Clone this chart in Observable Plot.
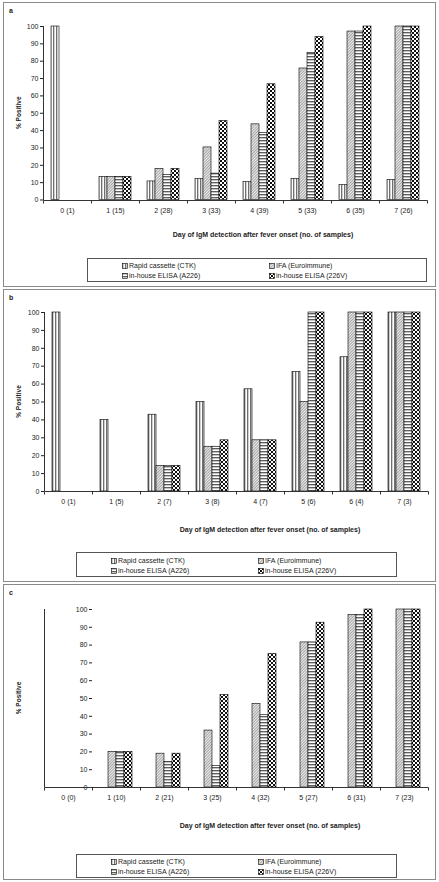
<!DOCTYPE html>
<html><head><meta charset="utf-8">
<script src="https://cdn.jsdelivr.net/npm/d3@7"></script>
<script src="https://cdn.jsdelivr.net/npm/@observablehq/plot@0.6"></script>
<style>
body{margin:0;background:#fff;font-family:"Liberation Sans",Arial,sans-serif;color:#222;}
#page{position:relative;width:439px;height:882px;overflow:hidden;background:#fff;}
.panel{position:absolute;border:1px solid #8a8a8a;box-sizing:border-box;}
.plabel{position:absolute;font-weight:bold;font-size:7px;line-height:7px;}
.xtitle{position:absolute;font-weight:bold;font-size:7px;line-height:8px;transform:translateX(-50%);white-space:nowrap;}
.legend{position:absolute;border:1px solid #555;box-sizing:border-box;background:#fff;}
.item{position:absolute;font-size:7px;line-height:9px;white-space:nowrap;display:flex;align-items:center;}
.item svg{margin-right:1px;display:block;}
.chart{position:absolute;left:0;}
</style></head>
<body>
<div id="page">
<svg width="0" height="0" style="position:absolute">
<defs>
<pattern id="pRapid" width="3" height="3" patternUnits="userSpaceOnUse">
<rect width="3" height="3" fill="#fff"/><rect x="0" width="1" height="3" fill="#707070"/><rect x="1" width="1" height="3" fill="#cfcfcf"/>
</pattern>
<pattern id="pIFA" width="2" height="2" patternUnits="userSpaceOnUse" patternTransform="rotate(45)">
<rect width="2" height="2" fill="#ececec"/><rect x="0" width="1" height="2" fill="#a6a6a6"/>
</pattern>
<pattern id="pA226" width="3" height="3" patternUnits="userSpaceOnUse">
<rect width="3" height="3" fill="#fff"/><rect y="0" width="3" height="1" fill="#5e5e5e"/><rect y="1" width="3" height="1" fill="#c4c4c4"/>
</pattern>
<pattern id="p226V" width="4" height="4" patternUnits="userSpaceOnUse">
<rect width="4" height="4" fill="#fff"/><rect x="0" y="0" width="2" height="2" fill="#111"/><rect x="2" y="2" width="2" height="2" fill="#111"/>
</pattern>
</defs>
</svg>
</div>
<script>
// ---------- data ----------
const seriesNames = ["Rapid cassette (CTK)", "IFA (Euroimmune)", "in-house ELISA (A226)", "in-house ELISA (226V)"];
const panelLabels = ["a", "b", "c"];
const xTitle = "Day of IgM detection after fever onset (no. of samples)";
const yTitle = "% Positive";
const yTicks = [0, 10, 20, 30, 40, 50, 60, 70, 80, 90, 100];

const daysA = ["0 (1)", "1 (15)", "2 (28)", "3 (33)", "4 (39)", "5 (33)", "6 (35)", "7 (26)"];
const rapidA = [100, 13.3, 10.7, 12.1, 10.3, 12.1, 8.6, 11.5];
const ifaA   = [null, 13.3, 17.9, 30.3, 43.6, 75.8, 97.1, 100];
const a226A  = [null, 13.3, 14.3, 15.2, 38.5, 84.8, 97.1, 100];
const v226A  = [null, 13.3, 17.9, 45.5, 66.7, 93.9, 100, 100];

const daysB = ["0 (1)", "1 (5)", "2 (7)", "3 (8)", "4 (7)", "5 (6)", "6 (4)", "7 (3)"];
const rapidB = [100, 40, 42.9, 50, 57.1, 66.7, 75, 100];
const ifaB   = [null, null, 14.3, 25, 28.6, 50, 100, 100];
const a226B  = [null, null, 14.3, 25, 28.6, 100, 100, 100];
const v226B  = [null, null, 14.3, 28.6, 28.6, 100, 100, 100];

const daysC = ["0 (0)", "1 (10)", "2 (21)", "3 (25)", "4 (32)", "5 (27)", "6 (31)", "7 (23)"];
const rapidC = [null, null, null, null, null, null, null, null];
const ifaC   = [null, 20, 19.0, 32, 46.9, 81.5, 96.8, 100];
const a226C  = [null, 20, 14.3, 12, 40.6, 81.5, 96.8, 100];
const v226C  = [null, 20, 19.0, 52, 75, 92.6, 100, 100];

// ---------- styles / layout ----------
const patternFills = ["url(#pRapid)", "url(#pIFA)", "url(#pA226)", "url(#p226V)"];
const layouts = [
  {top: 2, bottom: 286, svgTop: 2, y100: 26, y0: 199.5, axisLeft: 41, axisRight: 428, titleY: 231, titleX: 263,
   legend: {x: 87, y: 258, w: 340, h: 24, c1: 121, c2: 268, r1: 2, r2: 12}},
  {top: 289, bottom: 581, svgTop: 289, y100: 312, y0: 491, axisLeft: 43, axisRight: 428, titleY: 526, titleX: 270,
   legend: {x: 76, y: 552, w: 321, h: 25, c1: 110, c2: 257, r1: 3, r2: 13}},
  {top: 584, bottom: 879, svgTop: 584, y100: 609, y0: 787, axisLeft: 43, axisRight: 428, titleY: 822, titleX: 270,
   legend: {x: 76, y: 854, w: 321, h: 24, c1: 110, c2: 257, r1: 2, r2: 12}}
];
const panels = [
  {days: daysA, values: [rapidA, ifaA, a226A, v226A]},
  {days: daysB, values: [rapidB, ifaB, a226B, v226B]},
  {days: daysC, values: [rapidC, ifaC, a226C, v226C]}
];

const page = document.getElementById("page");
const FONT = '"Liberation Sans", Arial, sans-serif';

function swatch(i) {
  const ns = "http://www.w3.org/2000/svg";
  const s = document.createElementNS(ns, "svg");
  s.setAttribute("width", 6); s.setAttribute("height", 6);
  const r = document.createElementNS(ns, "rect");
  r.setAttribute("x", 0.5); r.setAttribute("y", 0.5); r.setAttribute("width", 5); r.setAttribute("height", 5);
  r.setAttribute("fill", patternFills[i]); r.setAttribute("stroke", "#000"); r.setAttribute("stroke-width", 0.6);
  s.appendChild(r);
  return s;
}

panels.forEach((data, pi) => {
  const L = layouts[pi];
  const box = document.createElement("div");
  box.className = "panel";
  Object.assign(box.style, {left: "3px", width: "433px", top: L.top + "px", height: (L.bottom - L.top + 1) + "px"});
  page.appendChild(box);
  const lab = document.createElement("div");
  lab.className = "plabel"; lab.textContent = panelLabels[pi];
  Object.assign(lab.style, {left: "9px", top: (L.top + 5) + "px"});
  page.appendChild(lab);

  const rows = [];
  data.values.forEach((vals, si) => vals.forEach((v, di) => {
    if (v != null && v > 0) rows.push({day: data.days[di], series: seriesNames[si], value: v});
  }));

  const H = Math.round(L.y0 - L.svgTop) + 20;
  const plot = Plot.plot({
    width: 439, height: H,
    marginLeft: L.axisLeft, marginRight: 439 - L.axisRight,
    marginTop: L.y100 - L.svgTop, marginBottom: H - (L.y0 - L.svgTop),
    style: {fontFamily: FONT, fontSize: "7px", color: "#222", background: "transparent", overflow: "visible"},
    fx: {domain: data.days, paddingInner: 0, paddingOuter: 0, label: null, tickSize: 0, tickPadding: 8},
    x: {domain: seriesNames, axis: null, paddingInner: 0, paddingOuter: 0.69, align: 0.5},
    y: {domain: [0, 100], ticks: yTicks, tickSize: 3, tickPadding: 2, label: null},
    marks: seriesNames.map((s, si) => Plot.barY(rows.filter(r => r.series === s), {
      fx: "day", x: "series", y: "value", fill: patternFills[si], stroke: "#000", strokeWidth: 0.6
    }))
  });
  plot.classList.add("chart");
  plot.style.top = L.svgTop + "px";
  page.appendChild(plot);

  const yS = plot.scale("y"), fxS = plot.scale("fx");
  const y0 = yS.apply(0), y100 = yS.apply(100);
  const bounds = data.days.map(d => fxS.apply(d));
  bounds.push(fxS.apply(data.days[data.days.length - 1]) + fxS.bandwidth);
  const svg = d3.select(plot);
  const g = svg.append("g").attr("stroke", "#333").attr("stroke-width", 1).attr("fill", "none");
  const xl = Math.round(bounds[0]) + 0.5, yb = Math.round(y0) + 0.5;
  g.append("line").attr("x1", xl).attr("x2", xl).attr("y1", Math.round(y100)).attr("y2", yb);
  g.append("line").attr("x1", xl).attr("x2", Math.round(bounds[bounds.length - 1]) + 0.5).attr("y1", yb).attr("y2", yb);
  bounds.forEach(b => g.append("line").attr("x1", Math.round(b) + 0.5).attr("x2", Math.round(b) + 0.5).attr("y1", yb).attr("y2", yb + 3));
  svg.append("text")
    .attr("transform", `translate(${20.5},${(y0 + y100) / 2}) rotate(-90)`)
    .attr("text-anchor", "middle").attr("font-weight", "bold").attr("font-size", 6.5)
    .attr("fill", "#222").text(yTitle);

  const t = document.createElement("div");
  t.className = "xtitle"; t.textContent = xTitle;
  Object.assign(t.style, {left: L.titleX + "px", top: L.titleY + "px"});
  page.appendChild(t);

  const lg = document.createElement("div");
  lg.className = "legend";
  Object.assign(lg.style, {left: L.legend.x + "px", top: L.legend.y + "px", width: L.legend.w + "px", height: L.legend.h + "px"});
  page.appendChild(lg);
  seriesNames.forEach((name, si) => {
    const it = document.createElement("div");
    it.className = "item";
    const col = si % 2 === 0 ? L.legend.c1 : L.legend.c2;
    const row = si < 2 ? L.legend.r1 : L.legend.r2;
    Object.assign(it.style, {left: (col - L.legend.x) + "px", top: row + "px"});
    it.appendChild(swatch(si));
    const sp = document.createElement("span"); sp.textContent = name;
    it.appendChild(sp);
    lg.appendChild(it);
  });
});
</script>
</body></html>
